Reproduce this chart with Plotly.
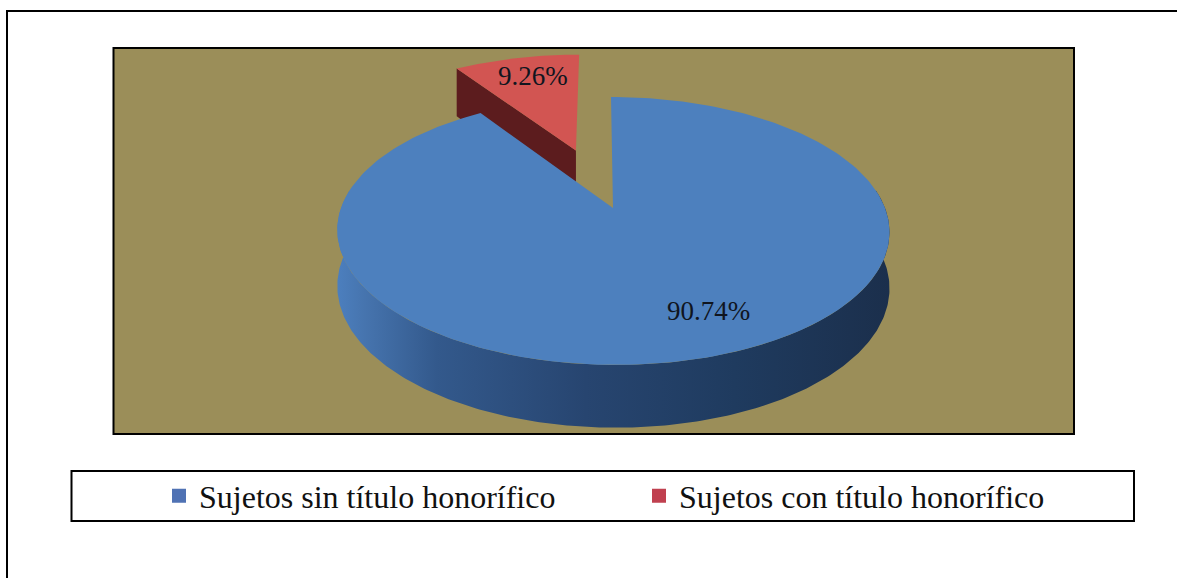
import numpy as np
import plotly.graph_objects as go

# Chart content
categories = ["Sujetos sin título honorífico", "Sujetos con título honorífico"]
values = [90.74, 9.26]
top_colors = ["#4D80BE", "#D25552"]
legend_colors = ["#4F72B4", "#C0404F"]

# Perspective model of the pie disc, in page pixels
APEX = (613.0, 208.0)
SCALE_X, SCALE_Y = 272.0, 130.0
TILT = 0.1716
SHEAR = 0.018
DEPTH = 55.0
EXPLODE = 0.5


def project(px, py, drop=0.0):
    """Project disc-plane points to the page; drop pushes them down the rim."""
    w = 1 + TILT * py
    rise = SCALE_Y * py / w
    return APEX[0] + SCALE_X * px / w - SHEAR * rise, APEX[1] - rise + drop * DEPTH / w ** 0.7


def arc(start, end, offset=(0.0, 0.0), drop=0.0):
    t = np.radians(np.linspace(start, end, 240))
    return project(offset[0] + np.sin(t), offset[1] + np.cos(t), drop)


shares = np.array(values) / sum(values) * 360
blue_start, blue_end = 0.0, shares[0]
red_start, red_end = shares[0], 360.0

mid = np.radians((red_start + red_end) / 2)
red_offset = (EXPLODE * np.sin(mid), EXPLODE * np.cos(mid))

fig = go.Figure()

# Exploded slice: cut wall, then its top face
ax, ay = project(np.array([red_offset[0]]), np.array([red_offset[1]]))
bx, by = project(np.array([red_offset[0]]), np.array([red_offset[1]]), 1.0)
rim_t = np.radians(red_start)
cx, cy = project(np.array([red_offset[0] + np.sin(rim_t)]), np.array([red_offset[1] + np.cos(rim_t)]))
dx, dy = project(np.array([red_offset[0] + np.sin(rim_t)]), np.array([red_offset[1] + np.cos(rim_t)]), 1.0)
fig.add_trace(go.Scatter(
    x=[cx[0], ax[0], bx[0], dx[0], cx[0]], y=[cy[0], ay[0], by[0], dy[0], cy[0]],
    mode="lines", line=dict(width=0), fill="toself", fillcolor="#5C1C1E",
    hoverinfo="skip", showlegend=False))
rx, ry = arc(red_start, red_end, red_offset)
fig.add_trace(go.Scatter(
    x=np.r_[ax, rx, ax], y=np.r_[ay, ry, ay],
    mode="lines", line=dict(width=0), fill="toself", fillcolor=top_colors[1],
    hoverinfo="skip", showlegend=False))

# Large slice: front rim with its side-to-side shading, then the top face
upper_x, upper_y = arc(82, 278)
lower_x, lower_y = arc(82, 278, drop=1.0)
fig.add_trace(go.Scatter(
    x=np.r_[lower_x, upper_x[::-1]], y=np.r_[lower_y, upper_y[::-1]],
    mode="lines", line=dict(width=0), fill="toself",
    fillgradient=dict(type="horizontal", colorscale=[
        [0.0, "#4C7FBE"], [0.05, "#4674AE"], [0.18, "#33598C"],
        [0.45, "#274570"], [0.72, "#1F3B5F"], [1.0, "#1B2F4C"]]),
    hoverinfo="skip", showlegend=False))
tx, ty = arc(blue_start, blue_end)
px0, py0 = project(np.array([0.0]), np.array([0.0]))
fig.add_trace(go.Scatter(
    x=np.r_[px0, tx, px0], y=np.r_[py0, ty, py0],
    mode="lines", line=dict(width=0), fill="toself", fillcolor=top_colors[0],
    hoverinfo="skip", showlegend=False))

# Legend swatches
for name, color in zip(categories, legend_colors):
    fig.add_trace(go.Scatter(
        x=[None], y=[None], mode="markers", name=name,
        marker=dict(symbol="square", size=14, color=color)))

# Value labels
label_font = dict(family="Liberation Serif", size=27, color="#10151F")
fig.add_annotation(x=708, y=311, text=f"{values[0]:.2f}%", showarrow=False, font=label_font)
fig.add_annotation(x=533, y=76, text=f"{values[1]:.2f}%", showarrow=False, font=label_font)

# Outer frame, plot panel, legend box
fig.update_layout(shapes=[
    dict(type="rect", layer="below", x0=7, y0=11, x1=1200, y1=600,
         line=dict(color="#000000", width=2), fillcolor="#FFFFFF"),
    dict(type="rect", layer="below", x0=113.5, y0=48, x1=1074, y1=434,
         line=dict(color="#000000", width=2), fillcolor="#9B8E59"),
    dict(type="rect", layer="below", x0=71.5, y0=471, x1=1134, y1=521,
         line=dict(color="#000000", width=2), fillcolor="#FFFFFF"),
])

fig.update_layout(
    width=1177, height=578,
    margin=dict(l=0, r=0, t=0, b=0),
    paper_bgcolor="#FFFFFF", plot_bgcolor="#FFFFFF",
    xaxis=dict(range=[0, 1177], visible=False, fixedrange=True),
    yaxis=dict(range=[578, 0], visible=False, fixedrange=True),
    legend=dict(
        orientation="h", x=159 / 1177, y=1 - 496 / 578, xanchor="left", yanchor="middle",
        bgcolor="rgba(0,0,0,0)", borderwidth=0, itemwidth=30,
        entrywidth=435, entrywidthmode="pixels",
        font=dict(family="Liberation Serif", size=32, color="#111111")),
)

fig.write_html("out.html", config=dict(displayModeBar=False))
